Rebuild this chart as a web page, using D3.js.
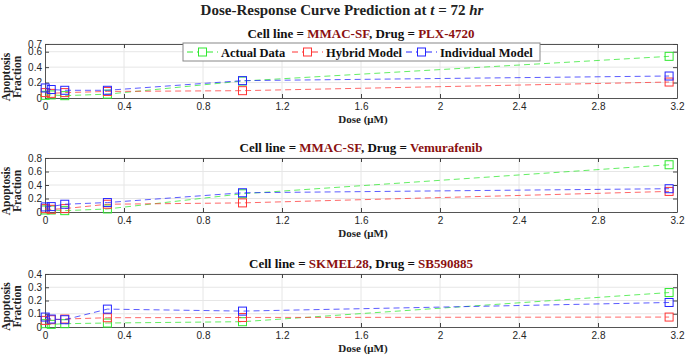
<!DOCTYPE html>
<html><head><meta charset="utf-8">
<script src="https://cdn.jsdelivr.net/npm/d3@7"></script>
<style>body{margin:0;background:#fff}svg{display:block}</style>
</head><body>
<svg id="c" width="685" height="355"></svg>
<script>
const doses = [0.001, 0.0316, 0.1, 0.316, 1.0, 3.16];
const seriesNames = ["Actual Data", "Hybrid Model", "Individual Model"];
const cellLines = ["MMAC-SF", "MMAC-SF", "SKMEL28"];
const drugs = ["PLX-4720", "Vemurafenib", "SB590885"];
const xTicks = [0, 0.4, 0.8, 1.2, 1.6, 2, 2.4, 2.8, 3.2];
const yTicks1 = [0, 0.2, 0.4, 0.6, 0.7];
const yTicks2 = [0, 0.2, 0.4, 0.6, 0.8];
const yTicks3 = [0, 0.1, 0.2, 0.3, 0.4];
// panel 1
const actual1 = [0.035, 0.04, 0.03, 0.05, 0.22, 0.54];
const hybrid1 = [0.07, 0.06, 0.07, 0.085, 0.095, 0.207];
const indiv1 = [0.13, 0.11, 0.10, 0.10, 0.225, 0.285];
// panel 2
const actual2 = [0.03, 0.03, 0.02, 0.045, 0.27, 0.70];
const hybrid2 = [0.05, 0.04, 0.05, 0.115, 0.135, 0.305];
const indiv2 = [0.075, 0.08, 0.115, 0.14, 0.285, 0.345];
// panel 3
const actual3 = [0.025, 0.02, 0.025, 0.03, 0.04, 0.26];
const hybrid3 = [0.05, 0.055, 0.06, 0.07, 0.072, 0.075];
const indiv3 = [0.075, 0.06, 0.055, 0.135, 0.12, 0.185];

const colors = ["#30e830", "#ff3535", "#2525ff"];
const panels = [
  {top: 44, bottom: 98, ymax: 0.7, yTicks: yTicks1, data: [actual1, hybrid1, indiv1], legend: true},
  {top: 158, bottom: 212, ymax: 0.8, yTicks: yTicks2, data: [actual2, hybrid2, indiv2]},
  {top: 274, bottom: 327, ymax: 0.4, yTicks: yTicks3, data: [actual3, hybrid3, indiv3]}
];
const svg = d3.select("#c");
const L = 45, R = 677;
const serif = "'Liberation Serif','DejaVu Serif',serif";
const sans = "'Liberation Sans',Arial,sans-serif";
const x = d3.scaleLinear().domain([0, 3.2]).range([L, R]);

svg.append("text").attr("x", 342).attr("y", 15).attr("text-anchor", "middle")
  .attr("font-family", serif).attr("font-weight", "bold").attr("font-size", 15).attr("fill", "#222")
  .call(t => {
    t.append("tspan").text("Dose-Response Curve Prediction at ");
    t.append("tspan").attr("font-style", "italic").text("t");
    t.append("tspan").text(" = 72 ");
    t.append("tspan").attr("font-style", "italic").text("hr");
  });

panels.forEach((p, i) => {
  const y = d3.scaleLinear().domain([0, p.ymax]).range([p.bottom, p.top]);
  const g = svg.append("g");
  // title
  g.append("text").attr("x", 361).attr("y", p.top - 6).attr("text-anchor", "middle")
    .attr("font-family", serif).attr("font-weight", "bold").attr("font-size", 13).attr("fill", "#111")
    .call(t => {
      t.append("tspan").text("Cell line = ");
      t.append("tspan").attr("fill", "#8b1010").text(cellLines[i]);
      t.append("tspan").text(", Drug = ");
      t.append("tspan").attr("fill", "#8b1010").text(drugs[i]);
    });
  // grid
  g.append("g").selectAll("line").data(xTicks.slice(1, -1)).join("line")
    .attr("x1", d => x(d)).attr("x2", d => x(d)).attr("y1", p.top).attr("y2", p.bottom)
    .attr("stroke", "#e6e6e6").attr("stroke-width", 1);
  g.append("g").selectAll("line").data(p.yTicks.slice(1)).join("line")
    .attr("x1", L).attr("x2", R).attr("y1", d => y(d)).attr("y2", d => y(d))
    .attr("stroke", "#e6e6e6").attr("stroke-width", 1);
  // axes
  const xa = g.append("g").attr("transform", `translate(0,${p.bottom})`)
    .call(d3.axisBottom(x).tickValues(xTicks).tickFormat(d3.format("")).tickSizeInner(-4).tickSizeOuter(0).tickPadding(5));
  const xt = g.append("g").attr("transform", `translate(0,${p.top})`)
    .call(d3.axisTop(x).tickValues(xTicks).tickFormat("").tickSizeInner(-4).tickSizeOuter(0));
  const ya = g.append("g").attr("transform", `translate(${L},0)`)
    .call(d3.axisLeft(y).tickValues(p.yTicks).tickFormat(d3.format("")).tickSizeInner(-4).tickSizeOuter(0).tickPadding(3));
  const yr = g.append("g").attr("transform", `translate(${R},0)`)
    .call(d3.axisRight(y).tickValues(p.yTicks).tickFormat("").tickSizeInner(-4).tickSizeOuter(0));
  [xa, xt, ya, yr].forEach(a => {
    a.selectAll("path").attr("stroke", "#555");
    a.selectAll("line").attr("stroke", "#444");
    a.selectAll("text").attr("font-family", sans).attr("font-size", 10).attr("fill", "#262626");
  });
  // x label
  g.append("text").attr("x", 363).attr("y", p.bottom + 25).attr("text-anchor", "middle")
    .attr("font-family", serif).attr("font-weight", "bold").attr("font-size", 11).attr("fill", "#222")
    .text("Dose (μM)");
  // y label
  const cy = (p.top + p.bottom) / 2 + 6;
  const yl = g.append("text").attr("transform", `translate(10,${cy}) rotate(-90)`).attr("text-anchor", "middle")
    .attr("font-family", serif).attr("font-weight", "bold").attr("font-size", 11.5).attr("fill", "#222");
  yl.append("tspan").attr("x", 0).attr("dy", 0).text("Apoptosis");
  yl.append("tspan").attr("x", 0).attr("dy", 10.5).text("Fraction");
  // series
  const line = d3.line().x(d => x(d[0])).y(d => y(d[1]));
  p.data.forEach((vals, s) => {
    const pts = doses.map((d, k) => [d, vals[k]]);
    g.append("path").datum(pts).attr("d", line).attr("fill", "none")
      .attr("stroke", colors[s]).attr("stroke-width", 1).attr("stroke-dasharray", "6,4").attr("opacity", 0.75);
    g.append("g").selectAll("rect").data(pts).join("rect")
      .attr("x", d => x(d[0]) - 4).attr("y", d => y(d[1]) - 4).attr("width", 8).attr("height", 8)
      .attr("fill", "none").attr("stroke", colors[s]).attr("stroke-width", 1);
  });
  if (p.legend) {
    const lg = g.append("g").attr("transform", "translate(183,43)");
    lg.append("rect").attr("width", 357).attr("height", 18).attr("fill", "#fff").attr("stroke", "#888");
    const offs = [4, 109, 223];
    seriesNames.forEach((n, s) => {
      const e = lg.append("g").attr("transform", `translate(${offs[s]},9)`);
      e.append("line").attr("x1", 0).attr("x2", 31).attr("stroke", colors[s]).attr("stroke-dasharray", "6,4");
      e.append("rect").attr("x", 11.5).attr("y", -4).attr("width", 8).attr("height", 8).attr("fill", "#fff").attr("stroke", colors[s]);
      e.append("text").attr("x", 34).attr("y", 4.5).attr("font-family", serif).attr("font-weight", "bold")
        .attr("font-size", 12.5).attr("fill", "#111").text(n);
    });
  }
});
</script>
</body></html>
